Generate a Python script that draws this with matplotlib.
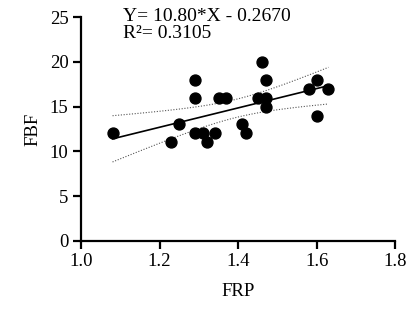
import numpy as np
import matplotlib
matplotlib.use("Agg")
import matplotlib.pyplot as plt

plt.rcParams['font.family'] = ['Liberation Serif', 'DejaVu Serif']

# values
frp = [1.08, 1.23, 1.25, 1.29, 1.29, 1.29, 1.31, 1.32, 1.34, 1.35, 1.37,
       1.41, 1.42, 1.45, 1.46, 1.47, 1.47, 1.47, 1.58, 1.60, 1.60, 1.63]
fbf = [12, 11, 13, 18, 16, 12, 12, 11, 12, 16, 16,
       13, 12, 16, 20, 18, 16, 15, 17, 18, 14, 17]
slope, intercept = 10.80, -0.2670
r2_text = "0.3105"

x = np.array(frp)
y = np.array(fbf)
n = len(x)

# regression line + 95% confidence band
xs = np.linspace(x.min(), x.max(), 100)
yhat = slope * xs + intercept
resid = y - (slope * x + intercept)
s = np.sqrt(np.sum(resid ** 2) / (n - 2))
sxx = np.sum((x - x.mean()) ** 2)
tval = 2.086
half = tval * s * np.sqrt(1 / n + (xs - x.mean()) ** 2 / sxx)

fig = plt.figure(figsize=(4.16, 3.10), dpi=100)
ax = fig.add_axes([0.195, 0.223, 0.755, 0.722])

ax.plot(xs, yhat, color='black', lw=1.2)
ax.plot(xs, yhat + half, color='#555555', lw=0.8, ls=(0, (1, 1.5)))
ax.plot(xs, yhat - half, color='#555555', lw=0.8, ls=(0, (1, 1.5)))
ax.scatter(x, y, s=62, color='black', zorder=3)

ax.set_xlim(1.0, 1.8)
ax.set_ylim(0, 25)
ax.set_xticks([1.0, 1.2, 1.4, 1.6, 1.8])
ax.set_yticks([0, 5, 10, 15, 20, 25])
ax.set_xticklabels(['1.0', '1.2', '1.4', '1.6', '1.8'])
ax.spines['top'].set_visible(False)
ax.spines['right'].set_visible(False)
for sp in ['left', 'bottom']:
    ax.spines[sp].set_linewidth(1.6)
ax.tick_params(direction='out', length=6, width=1.6, labelsize=13.5,
               colors='black', pad=3)
ax.set_xlabel('FRP', fontsize=13.5, labelpad=9)
ax.set_ylabel('FBF', fontsize=13.5, labelpad=6)

fig.text(0.296, 0.975, f"Y= {slope:.2f}*X - {abs(intercept):.4f}\nR\u00b2= {r2_text}",
         fontsize=14, va='top', ha='left', linespacing=1.0)

fig.savefig('out.png', dpi=100)
